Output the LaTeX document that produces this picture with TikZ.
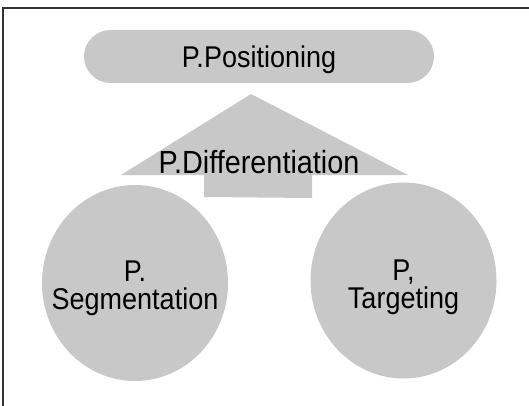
\documentclass[tikz,border=0pt]{standalone}
\usepackage{fontspec}
\setmainfont[FakeStretch=0.9]{Liberation Sans}
\usetikzlibrary{shapes.geometric}
\definecolor{boxgray}{RGB}{200,200,200}

\begin{document}
\begin{tikzpicture}[x=1pt,y=-1pt,
    blob/.style={fill=boxgray,draw=none,inner sep=0pt},
    stp/.style={blob,ellipse,minimum width=186pt,minimum height=196pt},
    stptext/.style={align=center,inner sep=0pt,font=\fontsize{30}{28}\selectfont}]
  \useasboundingbox (0,0) rectangle (529,406);
  \draw [line width=1.2pt,black!80] (529,8) -- (3,8) -- (3,406);
  % top bar
  \node [blob,rounded corners=26.5pt,minimum width=350pt,minimum height=53pt,text depth=0pt,font=\fontsize{30}{34}\selectfont] (pos) at (259,56.5) {P.Positioning};
  % big up arrow with its label
  \fill [boxgray] (251,94) -- (408,175) -- (312,175) -- (312,198) -- (204,197) -- (204,175) -- (121,175) -- cycle;
  \node [anchor=base,font=\fontsize{32}{36}\selectfont] (diff) at (259,173) {P.Differentiation};
  % the two circles
  \node [stp] (seg) at (135,283) {};
  \node [stp] (tar) at (403.5,280.5) {};
  \node [stptext] (segtext) at ([yshift=-5pt]seg.center) {P.\\Segmentation};
  \node [stptext] (tartext) at ([yshift=-7pt]tar.center) {P,\\Targeting};
\end{tikzpicture}
\end{document}
